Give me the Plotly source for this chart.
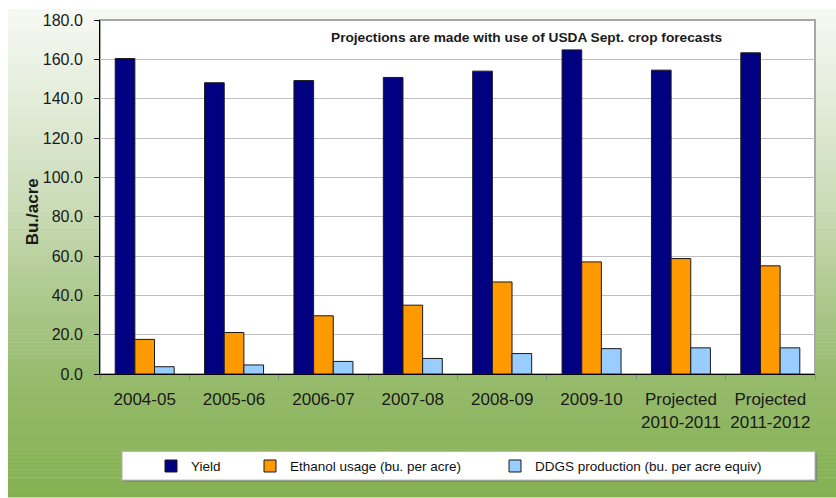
import plotly.graph_objects as go

# Corn yield and ethanol / DDGS use per harvested acre (bu./acre)
seasons = [
    "2004-05", "2005-06", "2006-07", "2007-08", "2008-09", "2009-10",
    "Projected<br>2010-2011", "Projected<br>2011-2012",
]
yield_bu = [160.4, 148.1, 149.2, 150.8, 154.0, 164.8, 154.5, 163.3]
ethanol_bu = [17.6, 21.1, 29.6, 35.0, 46.8, 57.0, 58.7, 55.0]
ddgs_bu = [3.7, 4.6, 6.4, 7.9, 10.4, 12.9, 13.3, 13.3]

series_names = ["Yield", "Ethanol usage (bu. per acre)", "DDGS production (bu. per acre equiv)"]
series_colors = ["#000080", "#FF9900", "#99CCFF"]

FONT = "Liberation Sans, Arial, sans-serif"
W, H = 836, 498
L, R, T, B = 100, 21, 17, 124
PW, PH = W - L - R, H - T - B


def px(x):
    """Pixel column -> paper x."""
    return (x - L) / PW


def py(y):
    """Pixel row -> paper y."""
    return (H - B - y) / PH


fig = go.Figure()
for name, vals, col, lg in zip(series_names, [yield_bu, ethanol_bu, ddgs_bu],
                               series_colors, ["legend", "legend2", "legend3"]):
    fig.add_trace(go.Bar(
        x=seasons, y=vals, name=name, legend=lg, showlegend=True,
        marker=dict(color=col, line=dict(color="#1a1a1a", width=1)),
    ))

# vertical white-to-green backdrop built from thin strips
stops = [(6, (247, 249, 244)), (100, (226, 236, 216)), (200, (203, 220, 184)),
         (300, (172, 200, 140)), (380, (150, 187, 108)), (498, (132, 176, 82))]


def colour_at(y):
    for (y0, c0), (y1, c1) in zip(stops[:-1], stops[1:]):
        if y0 <= y <= y1:
            t = (y - y0) / (y1 - y0)
            return "rgb(%d,%d,%d)" % tuple(round(a + (b - a) * t) for a, b in zip(c0, c1))
    return "rgb(%d,%d,%d)" % stops[-1][1]


shapes = []
step = 4
y = 6
while y < H:
    y2 = min(y + step, H)
    shapes.append(dict(type="rect", xref="paper", yref="paper", layer="below",
                       x0=px(8), x1=px(W), y0=py(y2 + 0.5), y1=py(y),
                       fillcolor=colour_at((y + y2) / 2), line=dict(width=0)))
    y = y2

# plot area panel with grey frame
shapes.append(dict(type="rect", xref="paper", yref="paper", layer="below",
                   x0=0, x1=1, y0=0, y1=1, fillcolor="white",
                   line=dict(color="#A6A6A6", width=2)))
# legend panel with a soft shadow
shapes.append(dict(type="rect", xref="paper", yref="paper", layer="below",
                   x0=px(124), x1=px(817), y0=py(483), y1=py(454),
                   fillcolor="#7f8f70", line=dict(width=0)))
shapes.append(dict(type="rect", xref="paper", yref="paper", layer="below",
                   x0=px(122), x1=px(815), y0=py(481), y1=py(452),
                   fillcolor="white", line=dict(color="#B0B0B0", width=1)))

legend_common = dict(orientation="h", yanchor="middle", xanchor="left",
                     bgcolor="rgba(0,0,0,0)", borderwidth=0, visible=True,
                     font=dict(family=FONT, size=13.5, color="#111111"))

fig.update_layout(
    width=W, height=H,
    margin=dict(l=L, r=R, t=T, b=B, pad=0),
    paper_bgcolor="white", plot_bgcolor="white",
    showlegend=True,
    barmode="group", bargap=0.34, bargroupgap=0,
    font=dict(family=FONT, color="#1a1a1a"),
    shapes=shapes,
    legend=dict(x=px(151), y=py(467), **legend_common),
    legend2=dict(x=px(250), y=py(467), **legend_common),
    legend3=dict(x=px(495), y=py(467), **legend_common),
    xaxis=dict(
        type="category", showgrid=False, showline=True, linecolor="black", linewidth=1,
        ticks="outside", tickson="boundaries", ticklen=5, tickcolor="#8a8a8a",
        tickfont=dict(family=FONT, size=17, color="#1a1a1a"),
        ticklabelstandoff=10,
    ),
    yaxis=dict(
        range=[0, 180], dtick=20, tickformat=".1f",
        showgrid=True, gridcolor="#C0C0C0", gridwidth=1.2,
        zeroline=False, showline=True, linecolor="black", linewidth=1,
        ticks="outside", ticklen=5, tickcolor="black",
        tickfont=dict(family=FONT, size=16, color="#1a1a1a"),
        ticklabelstandoff=8,
    ),
    annotations=[
        dict(text="<b>Bu./acre</b>", textangle=-90, xref="paper", yref="paper",
             x=px(32), y=py(211), showarrow=False, xanchor="center", yanchor="middle",
             font=dict(family=FONT, size=17, color="#1a1a1a")),
        dict(text="<b>Projections are made with use of USDA Sept. crop forecasts</b>",
             xref="paper", yref="paper", x=px(526.5), y=py(35), showarrow=False,
             xanchor="center", yanchor="middle",
             font=dict(family=FONT, size=13.7, color="#1a1a1a")),
    ],
)

fig.write_html("out.html")
